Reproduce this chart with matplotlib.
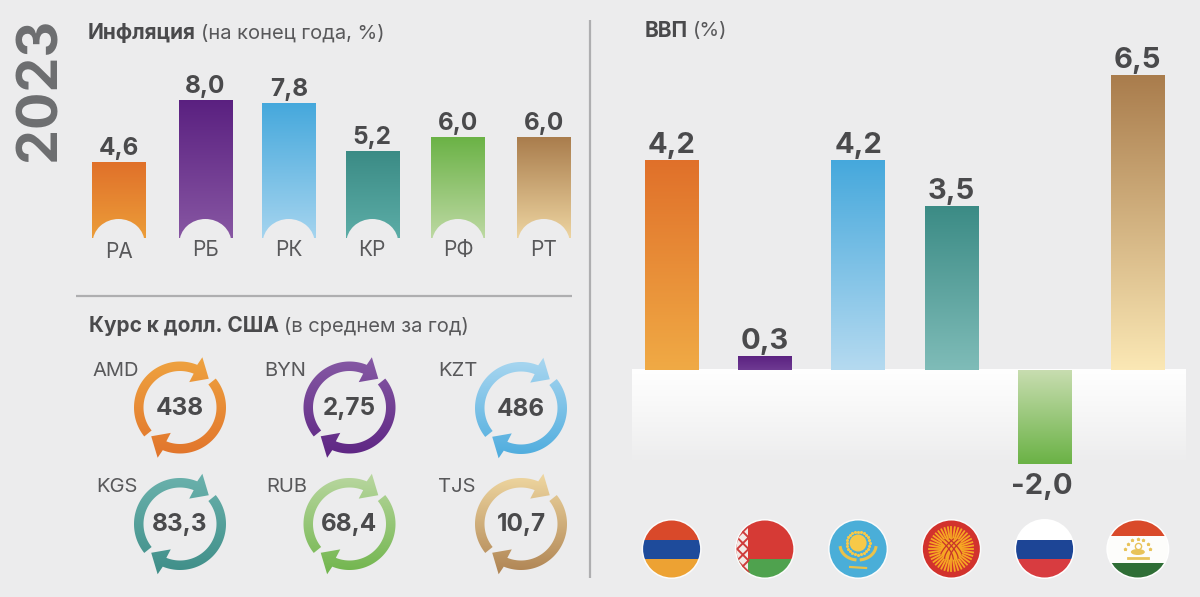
import numpy as np
from matplotlib import pyplot as plt
from matplotlib.colors import LinearSegmentedColormap
from matplotlib.patches import Circle, Ellipse, Polygon, Rectangle

W, H = 1200, 597

# Inflation, end of year (%)
countries = ["РА", "РБ", "РК", "КР", "РФ", "РТ"]
inflation = [4.6, 8.0, 7.8, 5.2, 6.0, 6.0]

# GDP (%). Printed labels, and the bar heights as actually drawn in the picture
# (the 4,2 and 6,5 bars are not to scale in the original)
gdp_labels = ["4,2", "0,3", "4,2", "3,5", "-2,0", "6,5"]
gdp_drawn = [4.47, 0.30, 4.47, 3.49, -2.0, 6.28]

# Exchange rate to USD
currencies = ["AMD", "BYN", "KZT", "KGS", "RUB", "TJS"]
rates = ["438", "2,75", "486", "83,3", "68,4", "10,7"]

# (dark end, light end) for each country
dark = ["#e0702a", "#5a2080", "#45a8dc", "#3b8b85", "#6ab245", "#a97c4c"]
light_left = ["#eda23a", "#8a5aa5", "#abd7f0", "#5fb0aa", "#c4dcab", "#f3dca8"]
light_right = ["#f0aa45", "#6e3a92", "#b5daf0", "#7fbcb8", "#c8ddb0", "#fbe8b5"]
light_ring = ["#f0a842", "#8a5fa8", "#b3dbf2", "#6fb5b0", "#c0daa8", "#f5dfa8"]

bg_color = "#ececed"
text_color = "#4a4a4c"
label_color = "#58585a"
rule_color = "#aeaeb0"

plt.rcParams["font.family"] = ["Inter", "Noto Sans", "DejaVu Sans"]


def px_axes(fig, left, top, right, bottom):
    return fig.add_axes(
        [left / W, 1 - bottom / H, (right - left) / W, (bottom - top) / H]
    )


def gradient(ax, extent, top_color, bottom_color, clip, zorder=2):
    cmap = LinearSegmentedColormap.from_list("g", [top_color, bottom_color])
    im = ax.imshow(
        np.linspace(0, 1, 256).reshape(-1, 1),
        cmap=cmap,
        extent=extent,
        origin="upper",
        aspect="auto",
        zorder=zorder,
    )
    im.set_clip_path(clip)


def gradient_bars(ax, bars, top_colors, bottom_colors):
    for bar, c_top, c_bottom in zip(bars, top_colors, bottom_colors):
        y0 = min(bar.get_y(), bar.get_y() + bar.get_height())
        y1 = max(bar.get_y(), bar.get_y() + bar.get_height())
        extent = (bar.get_x(), bar.get_x() + bar.get_width(), y0, y1)
        gradient(ax, extent, c_top, c_bottom, bar)


def clean(ax):
    ax.patch.set_alpha(0)
    ax.set_axis_off()


fig = plt.figure(figsize=(W / 100, H / 100), dpi=100, facecolor=bg_color)

# Inflation bars
infl_x = [118.6, 205.4, 288.7, 372.3, 458.0, 543.8]
ax_infl = px_axes(fig, 76, 60, 586, 238)
bars = ax_infl.bar(infl_x, inflation, width=53.6, facecolor="none", edgecolor="none")
gradient_bars(ax_infl, bars, dark, light_left)
for x, v in zip(infl_x, inflation):
    ax_infl.annotate(
        f"{v:.1f}".replace(".", ","),
        (x, v),
        xytext=(0, 5),
        textcoords="offset points",
        ha="center",
        va="baseline",
        fontsize=17.5,
        fontweight="bold",
        color=text_color,
    )
ax_infl.set_xlim(76, 586)
ax_infl.set_ylim((247.5 - 238) / 18.5, (247.5 - 60) / 18.5)
clean(ax_infl)

# GDP bars with the white fade under the zero line
gdp_x = 671.6 + 93.25 * np.arange(6)
ax_gdp = px_axes(fig, 620, 50, 1200, 510)
cmap_panel = LinearSegmentedColormap.from_list("p", ["#ffffff", "#f6f6f6", bg_color])
panel_im = ax_gdp.imshow(
    np.linspace(0, 1, 256).reshape(-1, 1),
    cmap=cmap_panel,
    extent=(632, 1186, -2.03, 0),
    origin="upper",
    aspect="auto",
    zorder=1,
)
bars = ax_gdp.bar(gdp_x, gdp_drawn, width=53.6, facecolor="none", edgecolor="none")
tops = list(dark)
bottoms = list(light_right)
tops[4], bottoms[4] = light_right[4], dark[4]
gradient_bars(ax_gdp, bars, tops, bottoms)
for x, v, label in zip(gdp_x, gdp_drawn, gdp_labels):
    ax_gdp.annotate(
        label,
        (x, v),
        xytext=(0, 5) if v > 0 else (-2, -21.5),
        textcoords="offset points",
        ha="center",
        va="baseline",
        fontsize=21,
        fontweight="bold",
        color=text_color,
        zorder=5,
    )
ax_gdp.set_xlim(620, 1200)
ax_gdp.set_ylim((370 - 510) / 47, (370 - 50) / 47)
clean(ax_gdp)

# Everything else goes on a pixel overlay
ov = fig.add_axes([0, 0, 1, 1], zorder=10)
ov.set_xlim(0, W)
ov.set_ylim(H, 0)
ov.set_autoscale_on(False)

# Bars stop at y=238, with a round notch under each; country codes below
code_y = [252, 250, 250, 250, 250, 250]
for x, y, name in zip(infl_x, code_y, countries):
    ov.add_patch(Rectangle((x - 29, 238), 58, 12, facecolor=bg_color, edgecolor="none"))
    ov.add_patch(Ellipse((x, 243), 52, 48, facecolor=bg_color, edgecolor="none"))
    ov.text(x, y, name, ha="center", va="center", fontsize=15, color=label_color)

# Rules
ov.plot([590, 590], [20, 578], color=rule_color, lw=1.6, solid_capstyle="butt")
ov.plot([76, 572], [296, 296], color=rule_color, lw=1.6, solid_capstyle="butt")

# Headings
ov.text(40.5, 89, "2023", rotation=90, ha="center", va="center", fontsize=40,
        fontweight="bold", color="#6d6e70")


def heading(x, y, bold, rest):
    t = ov.text(x, y, bold, ha="left", va="center", fontsize=15,
                fontweight="bold", color=text_color)
    box = t.get_window_extent(fig.canvas.get_renderer())
    ov.text(box.x1 + 5, y, rest, ha="left", va="center", fontsize=14.5, color=label_color)


heading(88, 33, "Инфляция", "(на конец года, %)")
heading(89, 326, "Курс к долл. США", "(в среднем за год)")
heading(645, 31, "ВВП", "(%)")


def ring_arrow(cx, cy, start):
    # clockwise arc with an arrowhead, angles in degrees from +x, y up
    R_out, R_in = 46, 36.5
    ang = np.radians(np.linspace(start + 219, start + 68, 80))
    outer = np.c_[cx + R_out * np.cos(ang), cy - R_out * np.sin(ang)]
    inner = np.c_[cx + R_in * np.cos(ang[::-1]), cy - R_in * np.sin(ang[::-1])]
    head = []
    for r, a in [(55, 66), (40.7, 45), (27, 70)]:
        a = np.radians(start + a)
        head.append((cx + r * np.cos(a), cy - r * np.sin(a)))
    return np.vstack([outer, head, inner])


ring_x = [180, 349.5, 521, 180, 349.5, 521]
ring_y = [407.5, 407.5, 408, 524, 524, 524]
cur_x = [116, 285, 458, 117, 287, 457]
cur_y = [371.5, 371.5, 371.5, 487.5, 487.5, 487.5]
for i, (name, rate) in enumerate(zip(currencies, rates)):
    cx, cy = ring_x[i], ring_y[i]
    for start in (0, 180):
        poly = Polygon(ring_arrow(cx, cy, start), closed=True, facecolor="none",
                       edgecolor="none")
        ov.add_patch(poly)
        gradient(ov, (cx - 60, cx + 60, cy + 60, cy - 60), light_ring[i], dark[i], poly)
    ov.text(cx, cy + 1, rate, ha="center", va="center", fontsize=17.5,
            fontweight="bold", color=text_color)
    ov.text(cur_x[i], cur_y[i], name, ha="center", va="center", fontsize=14.5,
            color=label_color)


# Flags
def flag_base(cx, cy, rx=28.5, ry=28.5, halo="#fbfbfb"):
    ov.add_patch(Ellipse((cx, cy), 2 * rx + 3, 2 * ry + 3, facecolor=halo, edgecolor="none"))
    clip = Ellipse((cx, cy), 2 * rx, 2 * ry, facecolor="none", edgecolor="none")
    ov.add_patch(clip)
    return clip


def stripes(cx, clip, colors, edges):
    for c, y0, y1 in zip(colors, edges[:-1], edges[1:]):
        r = Rectangle((cx - 32, y0), 64, y1 - y0, facecolor=c, edgecolor="none")
        ov.add_patch(r)
        r.set_clip_path(clip)


fy = 549
fx = gdp_x

clip = flag_base(fx[0], fy)
stripes(fx[0], clip, ["#d9492a", "#1e4b9b", "#eda233"], [515, 539.5, 559, 585])

clip = flag_base(fx[1], fy)
stripes(fx[1], clip, ["#d63a35", "#4fa24e"], [515, 559, 585])
r = Rectangle((fx[1] - 32, 515), 15, 70, facecolor="#f3e9e6", edgecolor="none")
ov.add_patch(r)
r.set_clip_path(clip)
for yy in np.arange(526, 576, 11.5):
    d = ov.scatter([fx[1] - 22], [yy], marker="D", s=34, facecolor="none",
                   edgecolor="#cf3b3b", linewidth=1.4)
    d.set_clip_path(clip)

clip = flag_base(fx[2], fy)
stripes(fx[2], clip, ["#4aaed8"], [515, 585])
ov.add_patch(Circle((fx[2], fy - 6), 8.5, facecolor="#f7c948", edgecolor="none"))
a = np.radians(np.arange(0, 360, 15))
ov.scatter(fx[2] + 11.5 * np.cos(a), fy - 6 + 11.5 * np.sin(a), s=1.5, color="#f7c948")
t = np.radians(np.linspace(190, 260, 20))
for sign in (-1, 1):
    ov.plot(fx[2] + sign * 18 * np.cos(t) * -1, fy - 4 - 15 * np.sin(t), color="#e9c24a", lw=2.2)
ov.plot([fx[2] - 8, fx[2] + 8], [fy + 18, fy + 19], color="#e9c24a", lw=1.6)

clip = flag_base(fx[3], fy)
stripes(fx[3], clip, ["#d2322d"], [515, 585])
for a in np.radians(np.arange(0, 360, 9)):
    ov.plot([fx[3] + 11 * np.cos(a), fx[3] + 22 * np.cos(a)],
            [fy + 11 * np.sin(a), fy + 22 * np.sin(a)], color="#f6a623", lw=1.3)
sun = Circle((fx[3], fy), 12, facecolor="#f6a623", edgecolor="#c7352a", lw=1.6)
ov.add_patch(sun)
u = np.linspace(0, 1, 20)
for s in (-1, 1):
    for shift in (-5, 0, 5):
        line, = ov.plot(fx[3] + s * (shift + 14 * u - 7), fy + 10 - 20 * u**0.6,
                        color="#c7352a", lw=0.9)
        line.set_clip_path(sun)

clip = flag_base(fx[4], fy, halo="#ffffff")
stripes(fx[4], clip, ["#ffffff", "#1d4596", "#d83c40"], [515, 539.5, 559, 585])

clip = flag_base(fx[5], fy, rx=30, ry=28.5, halo="#ffffff")
stripes(fx[5], clip, ["#d94a2a", "#fdfdfb", "#2f6e36"], [515, 536, 562.5, 585])
ov.plot([fx[5] - 10, fx[5] + 10], [557.5, 557.5], color="#e8c35a", lw=2)
ov.add_patch(Ellipse((fx[5], 552), 14, 6, facecolor="#e8c35a", edgecolor="none"))
ov.plot(fx[5], 546, marker="o", ms=4.5, mfc="none", mec="#e8c35a", mew=1)
a = np.radians(np.linspace(15, 165, 7))
ov.scatter(fx[5] + 13 * np.cos(a), 552 - 13 * np.sin(a), s=3, marker="*", color="#e8c35a")

ov.set_xlim(0, W)
ov.set_ylim(H, 0)
clean(ov)

fig.savefig("out.png", dpi=100, facecolor=bg_color)
